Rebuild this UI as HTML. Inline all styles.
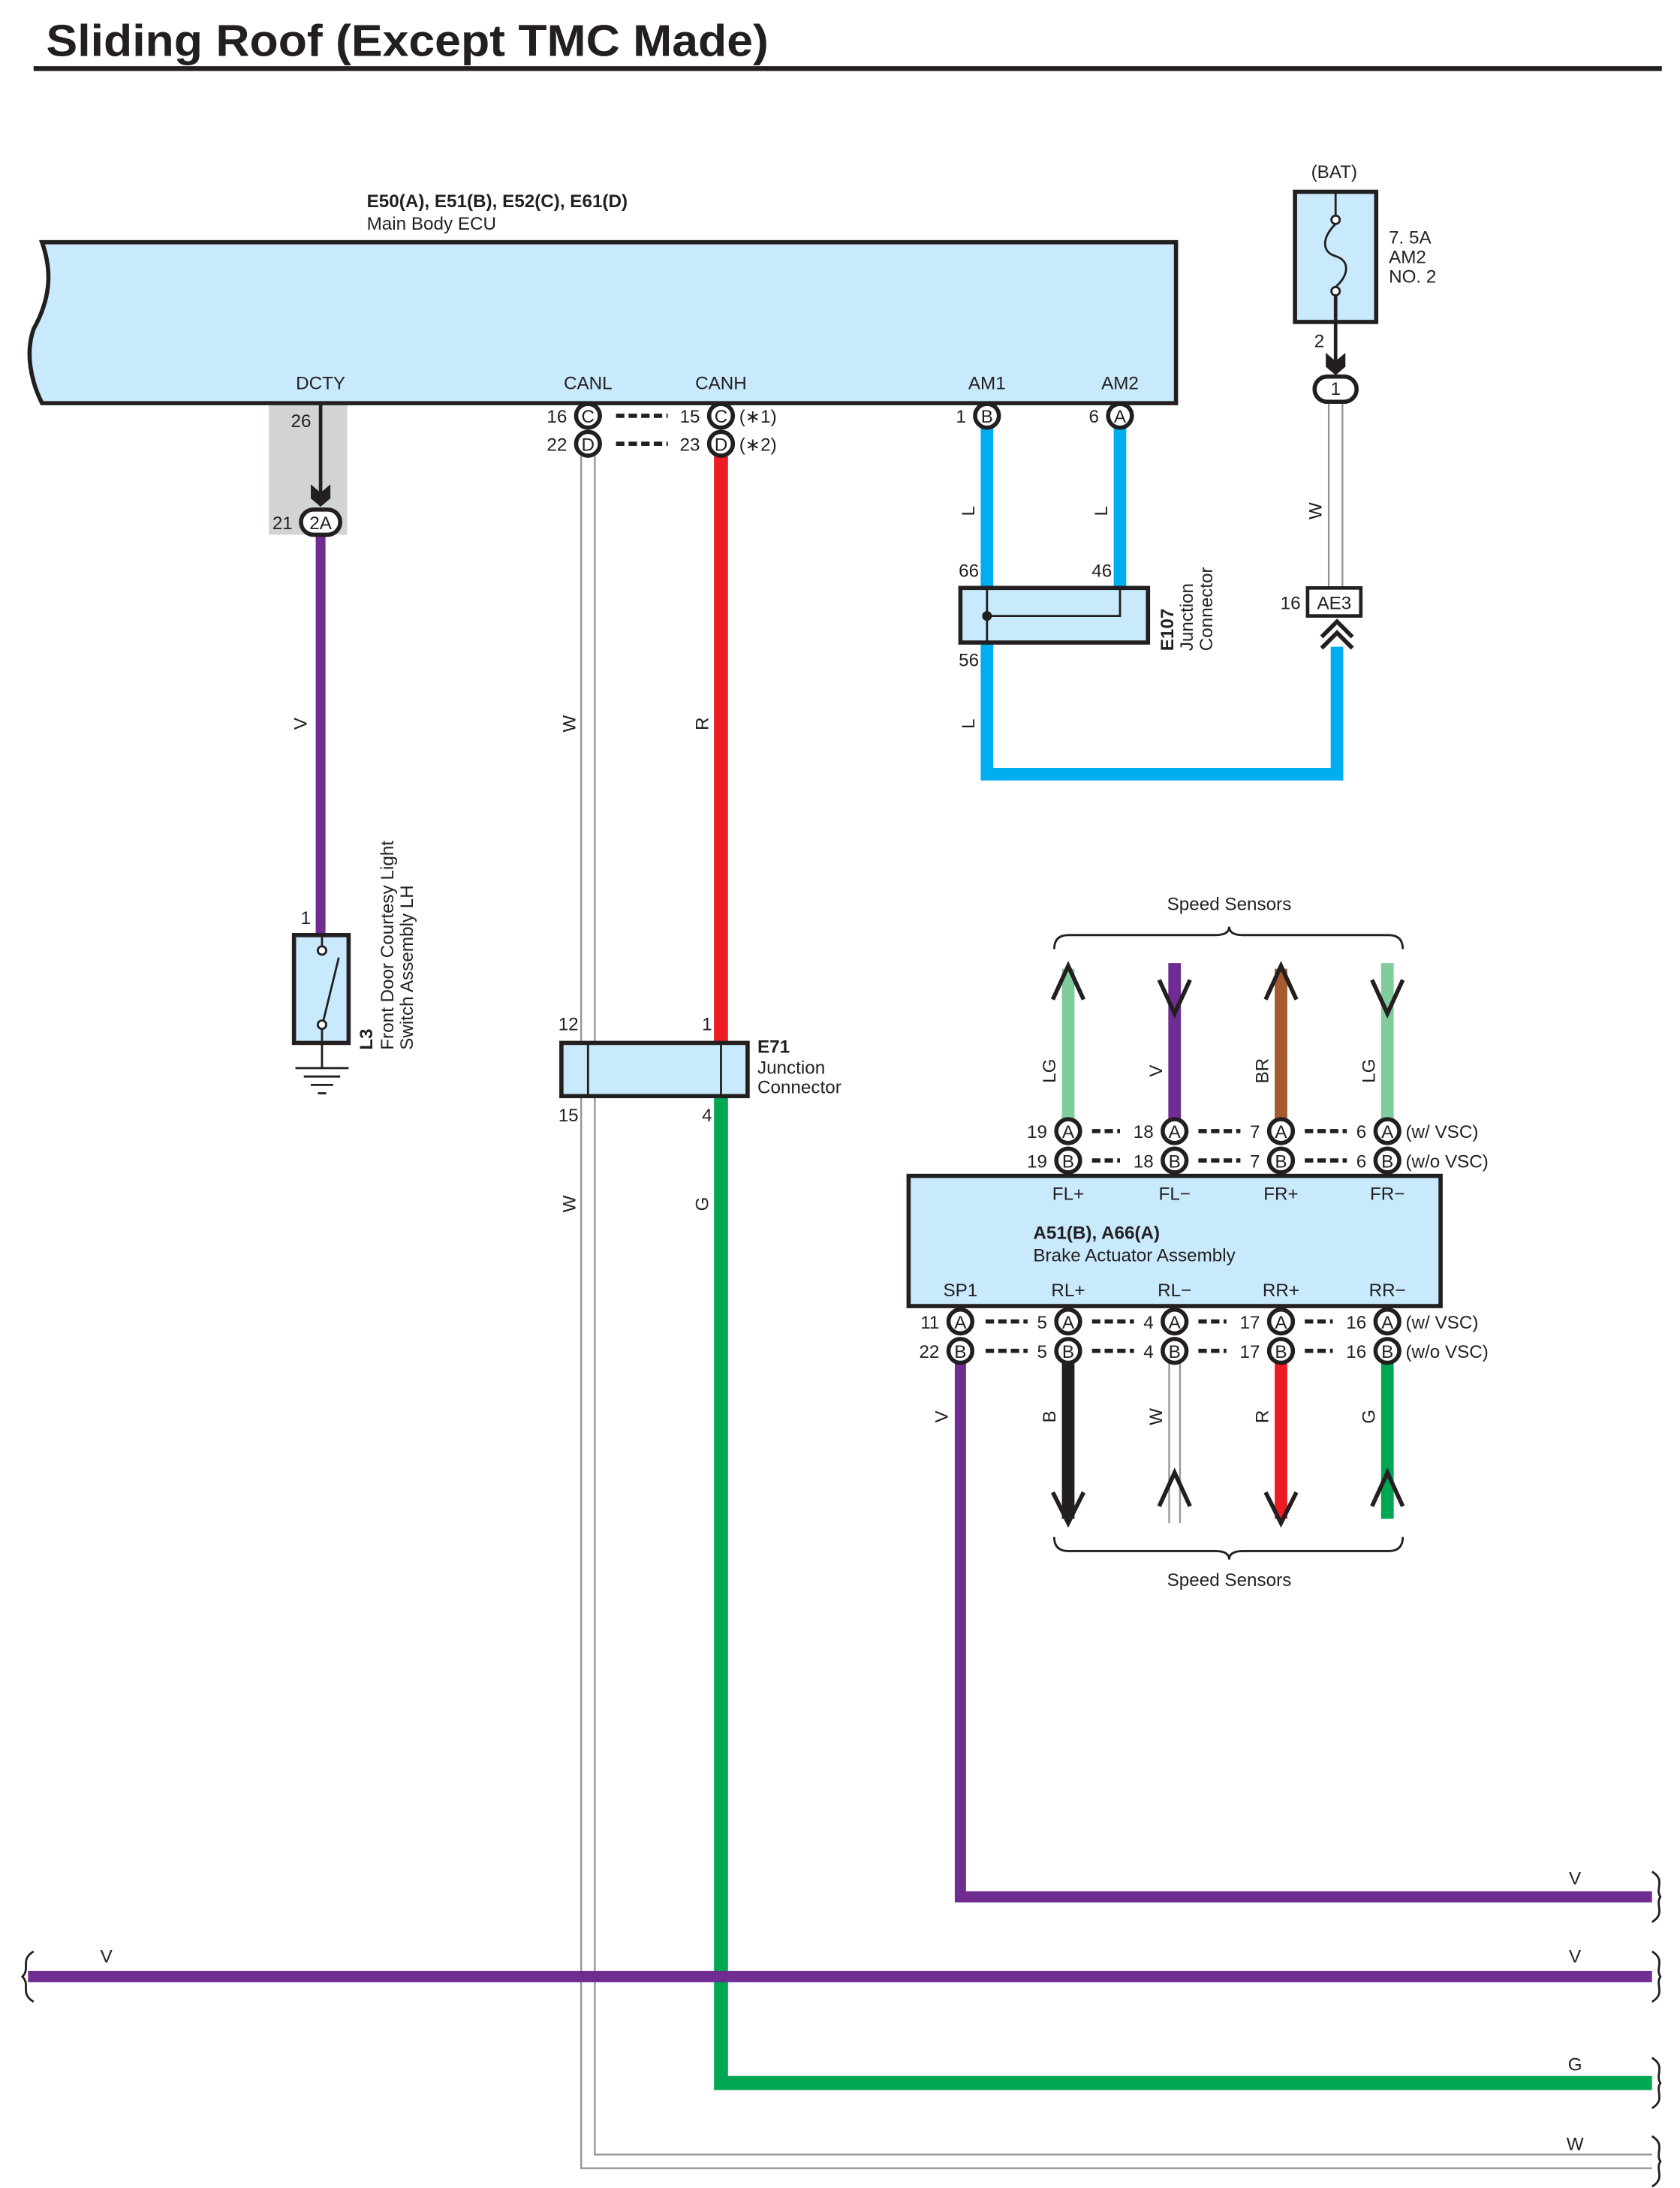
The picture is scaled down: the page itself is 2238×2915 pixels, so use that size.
<!DOCTYPE html>
<html><head><meta charset="utf-8"><style>
html,body{margin:0;padding:0;background:#fff}
svg{display:block}
text{font-family:"Liberation Sans Narrow","Liberation Sans",sans-serif;font-size:13px;fill:#231f20}
.b{font-weight:bold}
.w{fill:none;stroke-linecap:butt}
.k{fill:none;stroke:#231f20;stroke-width:3}
.c{fill:#fff;stroke:#231f20;stroke-width:3}
.m{text-anchor:middle}
.e{text-anchor:end}
</style></head><body>
<svg width="2238" height="2915" viewBox="0 0 1200 1563" xmlns="http://www.w3.org/2000/svg">
<text x="33" y="40" class="b" textLength="516" lengthAdjust="spacingAndGlyphs" style="font-family:'Liberation Sans',sans-serif;font-size:32px">Sliding Roof (Except TMC Made)</text>
<line x1="24" y1="49" x2="1187" y2="49" stroke="#231f20" stroke-width="3.5"/>

<!-- ECU -->
<text x="262" y="148" class="b">E50(A), E51(B), E52(C), E61(D)</text>
<text x="262" y="164">Main Body ECU</text>
<rect x="192" y="289" width="56" height="93" fill="#d1d3d4"/>
<path d="M30,173 H840 V288 H30 C22,272 18,252 24,235 C38,210 36,190 30,173 Z" fill="#c8eafc" stroke="#231f20" stroke-width="3"/>
<text x="229" y="278" class="m">DCTY</text>
<text x="420" y="278" class="m">CANL</text>
<text x="515" y="278" class="m">CANH</text>
<text x="705" y="278" class="m">AM1</text>
<text x="800" y="278" class="m">AM2</text>

<!-- DCTY -->
<line x1="229" y1="288" x2="229" y2="352" stroke="#231f20" stroke-width="2.5"/>
<path d="M222,346 L229,352 L236,346 L236,356 L229,362 L222,356 Z" fill="#231f20"/>
<text x="215" y="305" class="m">26</text>
<line x1="229" y1="382" x2="229" y2="668" stroke="#6f2c91" stroke-width="7"/>
<rect x="215" y="364" width="28" height="18" rx="9" class="c"/>
<text x="229" y="378" class="m">2A</text>
<text x="209" y="378" class="e">21</text>
<text transform="translate(219,517) rotate(-90)" class="m">V</text>

<!-- L3 switch -->
<text x="222" y="660" class="e">1</text>
<rect x="210" y="668" width="39" height="77" fill="#c8eafc" stroke="#231f20" stroke-width="3"/>
<circle cx="230" cy="679" r="3" fill="#fff" stroke="#231f20" stroke-width="1.5"/>
<circle cx="230" cy="732" r="3" fill="#fff" stroke="#231f20" stroke-width="1.5"/>
<line x1="230" y1="668" x2="230" y2="676" stroke="#231f20" stroke-width="1.5"/>
<line x1="230" y1="735" x2="230" y2="745" stroke="#231f20" stroke-width="1.5"/>
<line x1="231" y1="729" x2="242" y2="684" stroke="#231f20" stroke-width="1.5"/>
<line x1="230" y1="745" x2="230" y2="763" stroke="#231f20" stroke-width="1.5"/>
<line x1="211" y1="763" x2="249" y2="763" stroke="#231f20" stroke-width="1.5"/>
<line x1="217" y1="769" x2="243" y2="769" stroke="#231f20" stroke-width="1.5"/>
<line x1="222" y1="775" x2="238" y2="775" stroke="#231f20" stroke-width="1.5"/>
<line x1="227" y1="781" x2="233" y2="781" stroke="#231f20" stroke-width="1.5"/>
<text transform="translate(266,750) rotate(-90)" class="b">L3</text>
<text transform="translate(281,750) rotate(-90)">Front Door Courtesy Light</text>
<text transform="translate(295,750) rotate(-90)">Switch Assembly LH</text>

<!-- CANL / CANH -->
<path d="M420,326 V1544 H1180" class="w" stroke="#939598" stroke-width="11"/>
<path d="M420,326 V1544 H1180" class="w" stroke="#fff" stroke-width="8.5"/>
<line x1="515" y1="326" x2="515" y2="745" stroke="#ed1c24" stroke-width="10"/>
<path d="M515,783 V1488 H1180" class="w" stroke="#00a651" stroke-width="10"/>
<circle cx="420" cy="297" r="8.5" class="c"/><text x="420" y="302" class="m">C</text>
<circle cx="420" cy="317" r="8.5" class="c"/><text x="420" y="322" class="m">D</text>
<circle cx="515" cy="297" r="8.5" class="c"/><text x="515" y="302" class="m">C</text>
<circle cx="515" cy="317" r="8.5" class="c"/><text x="515" y="322" class="m">D</text>
<text x="405" y="302" class="e">16</text><text x="405" y="322" class="e">22</text>
<text x="500" y="302" class="e">15</text><text x="500" y="322" class="e">23</text>
<text x="528" y="302">(∗1)</text><text x="528" y="322">(∗2)</text>
<line x1="440" y1="297" x2="477" y2="297" stroke="#231f20" stroke-width="3" stroke-dasharray="6,3"/>
<line x1="440" y1="317" x2="477" y2="317" stroke="#231f20" stroke-width="3" stroke-dasharray="6,3"/>
<text transform="translate(411,517) rotate(-90)" class="m">W</text>
<text transform="translate(506,517) rotate(-90)" class="m">R</text>
<text transform="translate(411,860) rotate(-90)" class="m">W</text>
<text transform="translate(506,860) rotate(-90)" class="m">G</text>

<!-- E71 -->
<rect x="401" y="745" width="133" height="38" fill="#c8eafc" stroke="#231f20" stroke-width="3"/>
<line x1="420" y1="745" x2="420" y2="783" stroke="#231f20" stroke-width="1.5"/>
<line x1="515" y1="745" x2="515" y2="783" stroke="#231f20" stroke-width="1.5"/>
<text x="406" y="736" class="m">12</text><text x="505" y="736" class="m">1</text>
<text x="406" y="801" class="m">15</text><text x="505" y="801" class="m">4</text>
<text x="541" y="752" class="b">E71</text>
<text x="541" y="767">Junction</text>
<text x="541" y="781">Connector</text>

<!-- AM1 AM2 -->
<line x1="705" y1="306" x2="705" y2="420" stroke="#00aeef" stroke-width="9"/>
<line x1="800" y1="306" x2="800" y2="420" stroke="#00aeef" stroke-width="9"/>
<path d="M705,459 V553 H955 V462" class="w" stroke="#00aeef" stroke-width="9"/>
<circle cx="705" cy="297" r="8.5" class="c"/><text x="705" y="302" class="m">B</text>
<circle cx="800" cy="297" r="8.5" class="c"/><text x="800" y="302" class="m">A</text>
<text x="690" y="302" class="e">1</text><text x="785" y="302" class="e">6</text>
<text transform="translate(696,365) rotate(-90)" class="m">L</text>
<text transform="translate(791,365) rotate(-90)" class="m">L</text>
<text transform="translate(696,517) rotate(-90)" class="m">L</text>
<rect x="686" y="420" width="134" height="39" fill="#c8eafc" stroke="#231f20" stroke-width="3"/>
<path d="M800,420 V440 H705" fill="none" stroke="#231f20" stroke-width="1.5"/>
<line x1="705" y1="420" x2="705" y2="459" stroke="#231f20" stroke-width="1.5"/>
<circle cx="705" cy="440" r="3.5" fill="#231f20"/>
<text x="692" y="412" class="m">66</text><text x="787" y="412" class="m">46</text>
<text x="692" y="476" class="m">56</text>
<text transform="translate(838,465) rotate(-90)" class="b">E107</text>
<text transform="translate(852,465) rotate(-90)">Junction</text>
<text transform="translate(866,465) rotate(-90)">Connector</text>

<!-- BAT fuse -->
<text x="953" y="127" class="m">(BAT)</text>
<rect x="925" y="137" width="58" height="93" fill="#c8eafc" stroke="#231f20" stroke-width="3"/>
<circle cx="954" cy="157" r="3" fill="#fff" stroke="#231f20" stroke-width="1.5"/>
<circle cx="954" cy="208" r="3" fill="#fff" stroke="#231f20" stroke-width="1.5"/>
<path d="M954,160 C944,170 944,180 954,183 C964,186 964,196 954,205" fill="none" stroke="#231f20" stroke-width="1.5"/>
<line x1="954" y1="137" x2="954" y2="154" stroke="#231f20" stroke-width="1.5"/>
<text x="992" y="174">7. 5A</text><text x="992" y="188">AM2</text><text x="992" y="202">NO. 2</text>
<line x1="954" y1="211" x2="954" y2="258" stroke="#231f20" stroke-width="2.5"/>
<path d="M947,252 L954,258 L961,252 L961,262 L954,268 L947,262 Z" fill="#231f20"/>
<text x="946" y="248" class="e">2</text>
<line x1="954" y1="286" x2="954" y2="420" stroke="#939598" stroke-width="11"/>
<line x1="954" y1="286" x2="954" y2="420" stroke="#fff" stroke-width="8.5"/>
<rect x="939" y="269" width="30" height="18" rx="9" class="c"/>
<text x="954" y="282" class="m">1</text>
<text transform="translate(944,365) rotate(-90)" class="m">W</text>
<rect x="934" y="420" width="38" height="20" fill="#fff" stroke="#231f20" stroke-width="2.5"/>
<text x="953" y="435" class="m">AE3</text>
<text x="929" y="435" class="e">16</text>
<polyline points="944,455 955,444 966,455" class="k"/>
<polyline points="944,463 955,452 966,463" class="k"/>

<!-- top speed sensors -->
<text x="878" y="650" class="m">Speed Sensors</text>
<path d="M753,678 Q753,668 763,668 H868 Q878,668 878,662 Q878,668 888,668 H992 Q1002,668 1002,678" fill="none" stroke="#231f20" stroke-width="1.5"/>
<line x1="763" y1="692" x2="763" y2="800" stroke="#80cc9c" stroke-width="9"/>
<line x1="839" y1="688" x2="839" y2="800" stroke="#6f2c91" stroke-width="9"/>
<line x1="915" y1="692" x2="915" y2="800" stroke="#a65a2e" stroke-width="9"/>
<line x1="991" y1="688" x2="991" y2="800" stroke="#80cc9c" stroke-width="9"/>
<polyline points="752,714 763,690 774,714" class="k"/>
<polyline points="828,700 839,724 850,700" class="k"/>
<polyline points="904,714 915,690 926,714" class="k"/>
<polyline points="980,700 991,724 1002,700" class="k"/>
<text transform="translate(754,765) rotate(-90)" class="m">LG</text>
<text transform="translate(830,765) rotate(-90)" class="m">V</text>
<text transform="translate(906,765) rotate(-90)" class="m">BR</text>
<text transform="translate(982,765) rotate(-90)" class="m">LG</text>
<g>
<circle cx="763" cy="808" r="8.5" class="c"/><text x="763" y="813" class="m">A</text>
<circle cx="839" cy="808" r="8.5" class="c"/><text x="839" y="813" class="m">A</text>
<circle cx="915" cy="808" r="8.5" class="c"/><text x="915" y="813" class="m">A</text>
<circle cx="991" cy="808" r="8.5" class="c"/><text x="991" y="813" class="m">A</text>
<circle cx="763" cy="829" r="8.5" class="c"/><text x="763" y="834" class="m">B</text>
<circle cx="839" cy="829" r="8.5" class="c"/><text x="839" y="834" class="m">B</text>
<circle cx="915" cy="829" r="8.5" class="c"/><text x="915" y="834" class="m">B</text>
<circle cx="991" cy="829" r="8.5" class="c"/><text x="991" y="834" class="m">B</text>
</g>
<text x="748" y="813" class="e">19</text><text x="748" y="834" class="e">19</text>
<text x="824" y="813" class="e">18</text><text x="824" y="834" class="e">18</text>
<text x="900" y="813" class="e">7</text><text x="900" y="834" class="e">7</text>
<text x="976" y="813" class="e">6</text><text x="976" y="834" class="e">6</text>
<text x="1004" y="813">(w/ VSC)</text><text x="1004" y="834">(w/o VSC)</text>
<g stroke="#231f20" stroke-width="3" stroke-dasharray="6,3">
<line x1="780" y1="808" x2="800" y2="808"/><line x1="780" y1="829" x2="800" y2="829"/>
<line x1="856" y1="808" x2="886" y2="808"/><line x1="856" y1="829" x2="886" y2="829"/>
<line x1="932" y1="808" x2="962" y2="808"/><line x1="932" y1="829" x2="962" y2="829"/>
</g>

<!-- brake actuator -->
<rect x="649" y="840" width="380" height="93" fill="#c8eafc" stroke="#231f20" stroke-width="3"/>
<text x="763" y="857" class="m">FL+</text><text x="839" y="857" class="m">FL−</text>
<text x="915" y="857" class="m">FR+</text><text x="991" y="857" class="m">FR−</text>
<text x="738" y="885" class="b">A51(B), A66(A)</text>
<text x="738" y="901">Brake Actuator Assembly</text>
<text x="686" y="926" class="m">SP1</text><text x="763" y="926" class="m">RL+</text>
<text x="839" y="926" class="m">RL−</text><text x="915" y="926" class="m">RR+</text>
<text x="991" y="926" class="m">RR−</text>

<!-- bottom wires -->
<path d="M686,974 V1355 H1180" class="w" stroke="#6f2c91" stroke-width="8"/>
<line x1="763" y1="974" x2="763" y2="1085" stroke="#231f20" stroke-width="9"/>
<line x1="839" y1="974" x2="839" y2="1088" stroke="#939598" stroke-width="9"/>
<line x1="839" y1="974" x2="839" y2="1088" stroke="#fff" stroke-width="6.5"/>
<line x1="915" y1="974" x2="915" y2="1085" stroke="#ed1c24" stroke-width="9"/>
<line x1="991" y1="974" x2="991" y2="1085" stroke="#00a651" stroke-width="9"/>
<polyline points="752,1066 763,1088 774,1066" class="k"/>
<polyline points="828,1076 839,1052 850,1076" class="k"/>
<polyline points="904,1066 915,1088 926,1066" class="k"/>
<polyline points="980,1076 991,1052 1002,1076" class="k"/>
<g>
<circle cx="686" cy="944" r="8.5" class="c"/><text x="686" y="949" class="m">A</text>
<circle cx="763" cy="944" r="8.5" class="c"/><text x="763" y="949" class="m">A</text>
<circle cx="839" cy="944" r="8.5" class="c"/><text x="839" y="949" class="m">A</text>
<circle cx="915" cy="944" r="8.5" class="c"/><text x="915" y="949" class="m">A</text>
<circle cx="991" cy="944" r="8.5" class="c"/><text x="991" y="949" class="m">A</text>
<circle cx="686" cy="965" r="8.5" class="c"/><text x="686" y="970" class="m">B</text>
<circle cx="763" cy="965" r="8.5" class="c"/><text x="763" y="970" class="m">B</text>
<circle cx="839" cy="965" r="8.5" class="c"/><text x="839" y="970" class="m">B</text>
<circle cx="915" cy="965" r="8.5" class="c"/><text x="915" y="970" class="m">B</text>
<circle cx="991" cy="965" r="8.5" class="c"/><text x="991" y="970" class="m">B</text>
</g>
<text x="671" y="949" class="e">11</text><text x="671" y="970" class="e">22</text>
<text x="748" y="949" class="e">5</text><text x="748" y="970" class="e">5</text>
<text x="824" y="949" class="e">4</text><text x="824" y="970" class="e">4</text>
<text x="900" y="949" class="e">17</text><text x="900" y="970" class="e">17</text>
<text x="976" y="949" class="e">16</text><text x="976" y="970" class="e">16</text>
<text x="1004" y="949">(w/ VSC)</text><text x="1004" y="970">(w/o VSC)</text>
<g stroke="#231f20" stroke-width="3" stroke-dasharray="6,3">
<line x1="704" y1="944" x2="734" y2="944"/><line x1="704" y1="965" x2="734" y2="965"/>
<line x1="780" y1="944" x2="810" y2="944"/><line x1="780" y1="965" x2="810" y2="965"/>
<line x1="856" y1="944" x2="876" y2="944"/><line x1="856" y1="965" x2="876" y2="965"/>
<line x1="932" y1="944" x2="952" y2="944"/><line x1="932" y1="965" x2="952" y2="965"/>
</g>
<text transform="translate(677,1012) rotate(-90)" class="m">V</text>
<text transform="translate(754,1012) rotate(-90)" class="m">B</text>
<text transform="translate(830,1012) rotate(-90)" class="m">W</text>
<text transform="translate(906,1012) rotate(-90)" class="m">R</text>
<text transform="translate(982,1012) rotate(-90)" class="m">G</text>
<path d="M753,1098 Q753,1108 763,1108 H868 Q878,1108 878,1114 Q878,1108 888,1108 H992 Q1002,1108 1002,1098" fill="none" stroke="#231f20" stroke-width="1.5"/>
<text x="878" y="1133" class="m">Speed Sensors</text>

<!-- bottom harness -->
<line x1="20" y1="1412" x2="1180" y2="1412" stroke="#6f2c91" stroke-width="8"/>
<text x="76" y="1402" class="m">V</text>
<text x="1125" y="1346" class="m">V</text>
<text x="1125" y="1402" class="m">V</text>
<text x="1125" y="1479" class="m">G</text>
<text x="1125" y="1536" class="m">W</text>
<g fill="none" stroke="#231f20" stroke-width="1.5">
<path d="M24,1394 C14,1400 22,1406 16,1412 C22,1418 14,1424 24,1430"/>
<path d="M1180,1337 C1190,1343 1182,1349 1186,1355 C1182,1361 1190,1367 1180,1373"/>
<path d="M1180,1394 C1190,1400 1182,1406 1186,1412 C1182,1418 1190,1424 1180,1430"/>
<path d="M1180,1470 C1190,1476 1182,1482 1186,1488 C1182,1494 1190,1500 1180,1506"/>
<path d="M1180,1526 C1190,1532 1182,1538 1186,1544 C1182,1550 1190,1556 1180,1562"/>
</g>
</svg>
</body></html>
